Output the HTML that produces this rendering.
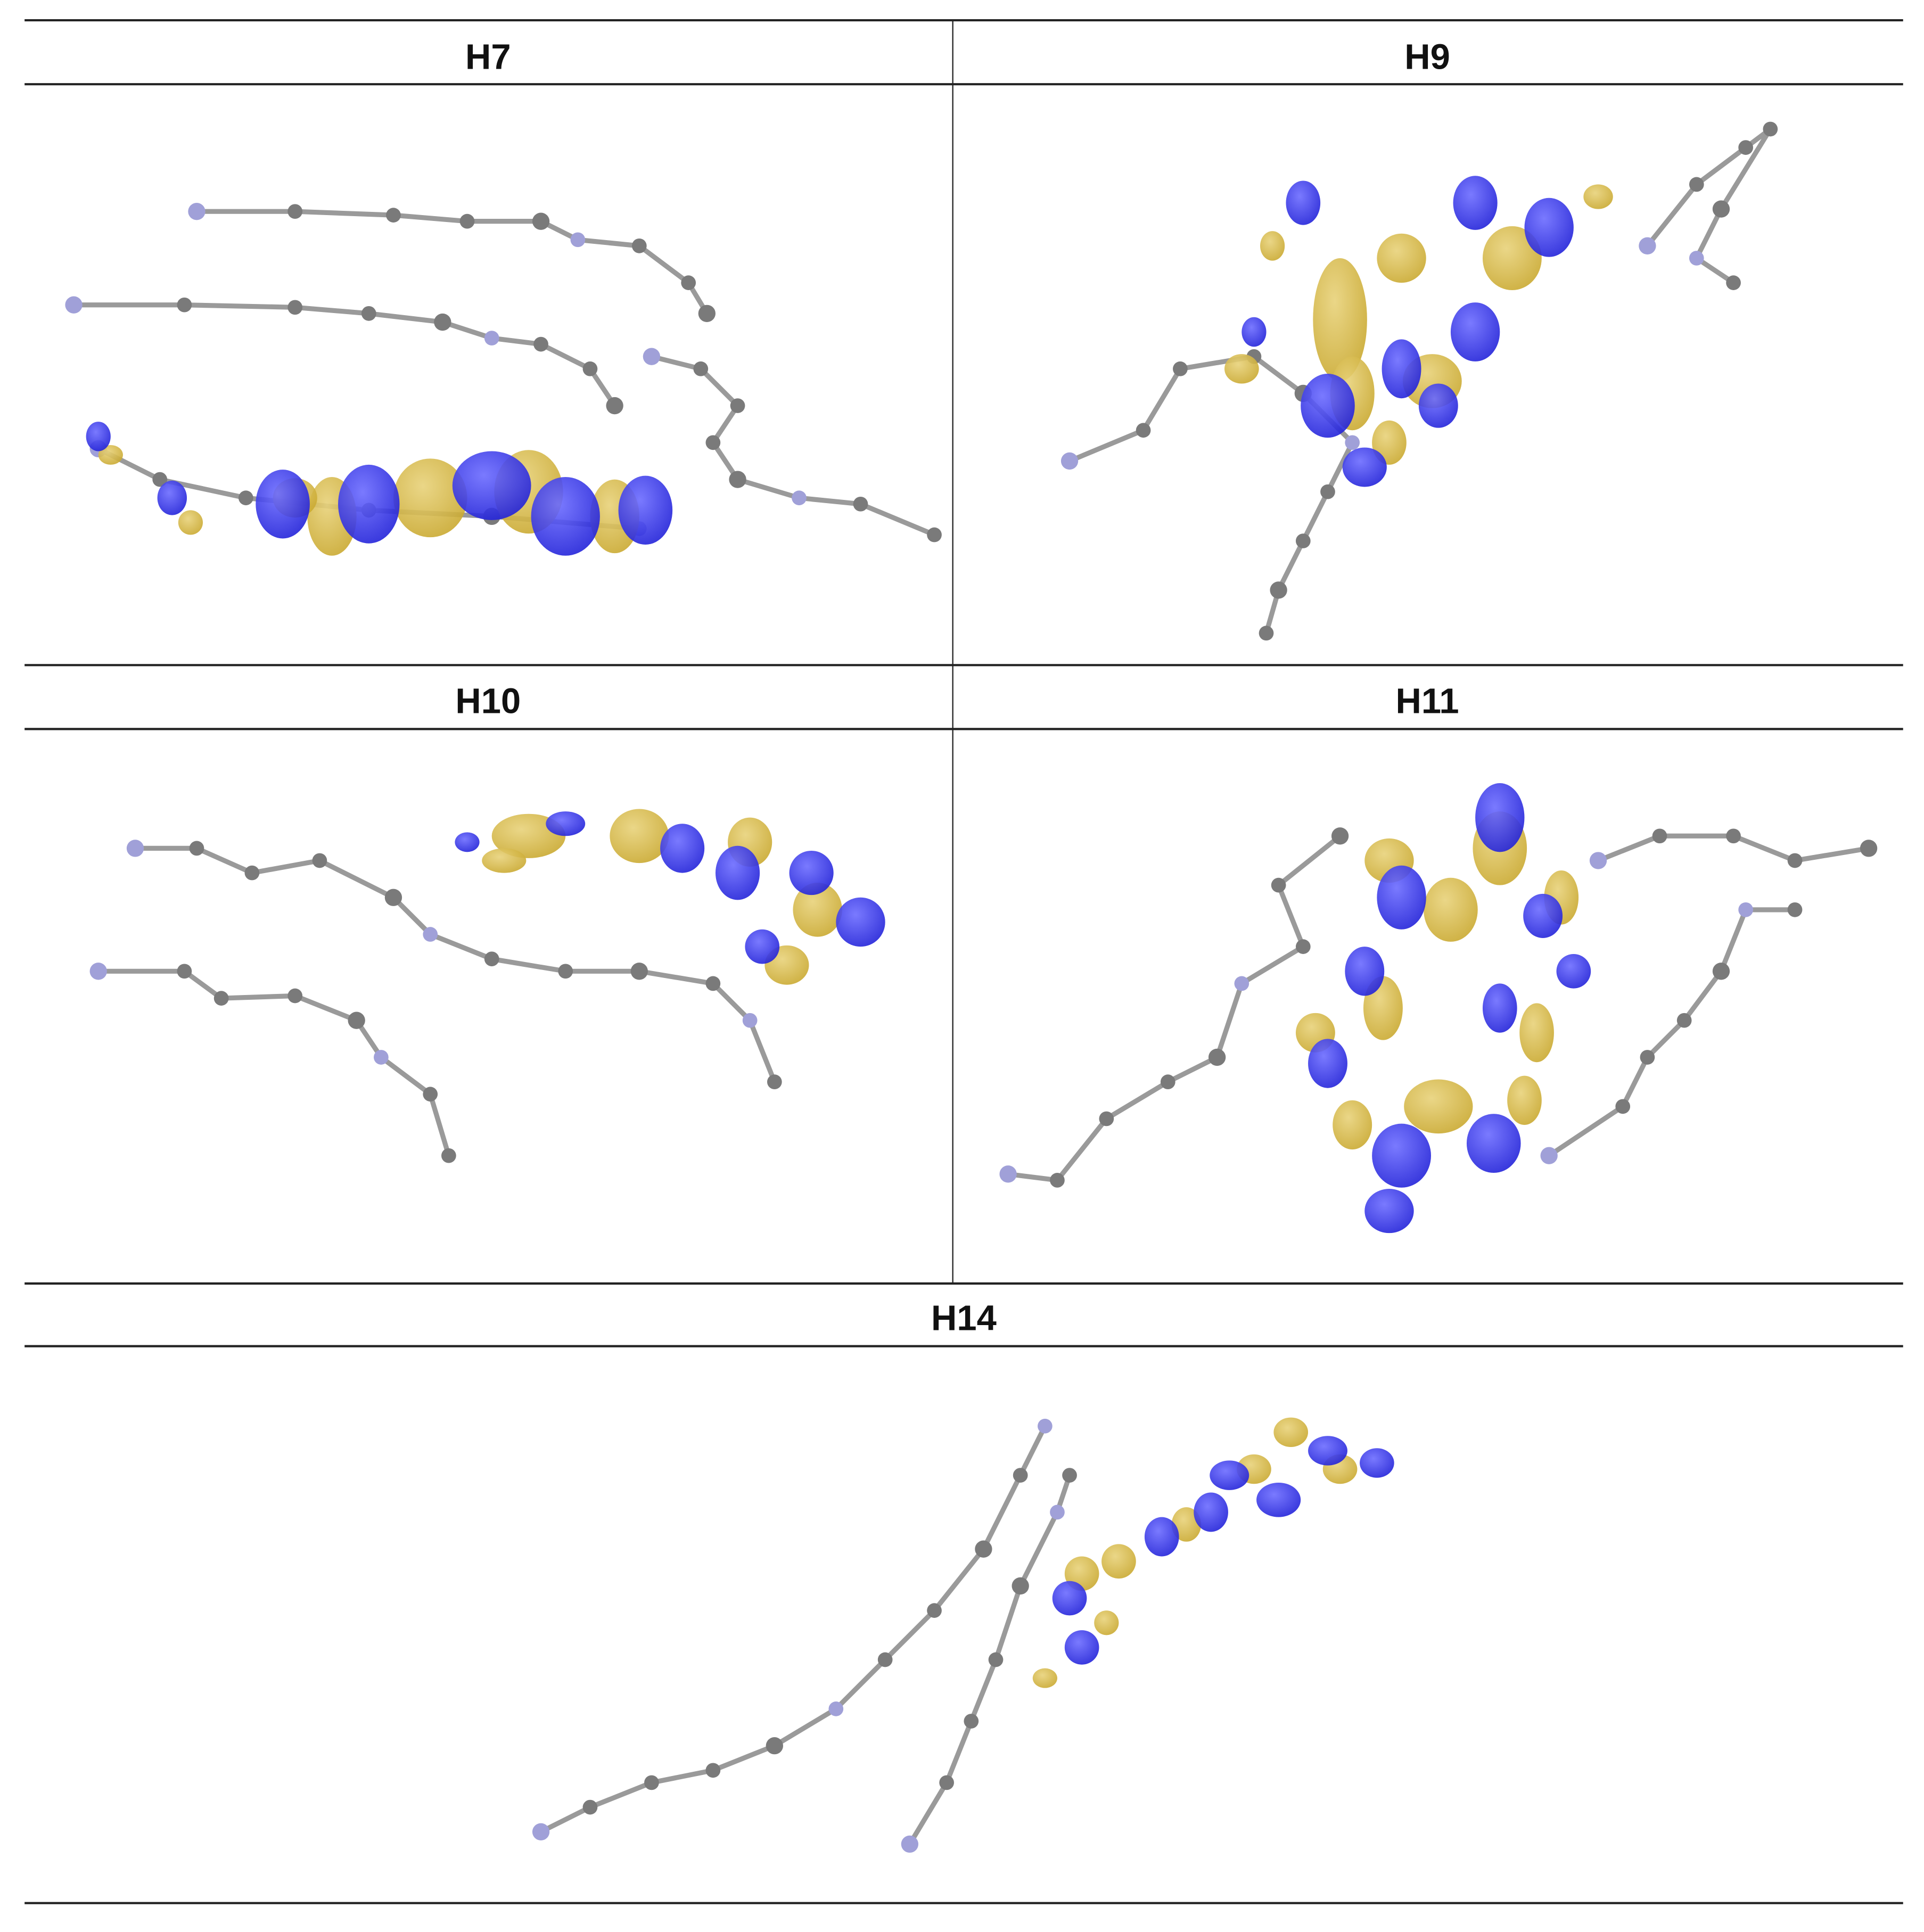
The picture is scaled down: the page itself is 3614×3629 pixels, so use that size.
<!DOCTYPE html>
<html><head><meta charset="utf-8"><style>
html,body{margin:0;padding:0;background:#fff;}
svg{display:block;}
text{font-family:"Liberation Sans",sans-serif;font-weight:bold;}
</style></head><body>
<svg id="fig" width="3614" height="3629" viewBox="0 0 1565 1571.5" preserveAspectRatio="none" xmlns="http://www.w3.org/2000/svg">
<defs>
<radialGradient id="gb" cx="40%" cy="35%" r="70%"><stop offset="0" stop-color="#6b6bff"/><stop offset="1" stop-color="#2020d8"/></radialGradient>
<radialGradient id="gy" cx="40%" cy="35%" r="70%"><stop offset="0" stop-color="#e8d27a"/><stop offset="1" stop-color="#c9a82e"/></radialGradient>
</defs>
<g stroke="#222" stroke-width="1.8">
<line x1="20" y1="16.5" x2="1548" y2="16.5"/>
<line x1="20" y1="68.5" x2="1548" y2="68.5"/>
<line x1="20" y1="541" x2="1548" y2="541"/>
<line x1="20" y1="593" x2="1548" y2="593"/>
<line x1="20" y1="1044" x2="1548" y2="1044"/>
<line x1="20" y1="1095" x2="1548" y2="1095"/>
<line x1="20" y1="1548" x2="1548" y2="1548"/>
<line x1="775" y1="17" x2="775" y2="1044" stroke-width="1"/>
</g>
<g font-size="29" text-anchor="middle" fill="#111">
<text x="397" y="56">H7</text>
<text x="1161" y="56">H9</text>
<text x="397" y="580">H10</text>
<text x="1161" y="580">H11</text>
<text x="784" y="1082">H14</text>
</g>
<g id="mols"></g>
</svg>
<script>
const chains = [
 [[160,172],[240,172],[320,175],[380,180],[440,180],[470,195],[520,200],[560,230],[575,255]],
 [[60,248],[150,248],[240,250],[300,255],[360,262],[400,275],[440,280],[480,300],[500,330]],
 [[80,365],[130,390],[200,405],[300,415],[400,420],[520,430]],
 [[530,290],[570,300],[600,330],[580,360],[600,390],[650,405],[700,410],[760,435]],
 [[870,375],[930,350],[960,300],[1020,290],[1060,320],[1100,360],[1080,400],[1060,440],[1040,480],[1030,515]],
 [[1340,200],[1380,150],[1420,120],[1440,105],[1400,170],[1380,210],[1410,230]],
 [[110,690],[160,690],[205,710],[260,700],[320,730],[350,760],[400,780],[460,790],[520,790],[580,800],[610,830],[630,880]],
 [[80,790],[150,790],[180,812],[240,810],[290,830],[310,860],[350,890],[365,940]],
 [[820,955],[860,960],[900,910],[950,880],[990,860],[1010,800],[1060,770],[1040,720],[1090,680]],
 [[1300,700],[1350,680],[1410,680],[1460,700],[1520,690]],
 [[1260,940],[1320,900],[1340,860],[1370,830],[1400,790],[1420,740],[1460,740]],
 [[440,1490],[480,1470],[530,1450],[580,1440],[630,1420],[680,1390],[720,1350],[760,1310],[800,1260],[830,1200],[850,1160]],
 [[740,1500],[770,1450],[790,1400],[810,1350],[830,1290],[860,1230],[870,1200]]
];
const blueLobes = [[230,410,22,28],[300,410,25,32],[400,395,32,28],[460,420,28,32],[525,415,22,28],[80,355,10,12],[140,405,12,14],
 [1060,165,14,18],[1200,165,18,22],[1260,185,20,24],[1140,300,16,24],[1080,330,22,26],[1200,270,20,24],[1110,380,18,16],[1020,270,10,12],[1170,330,16,18],
 [460,670,16,10],[555,690,18,20],[600,710,18,22],[660,710,18,18],[700,750,20,20],[620,770,14,14],[380,685,10,8],
 [1220,665,20,28],[1140,730,20,26],[1255,745,16,18],[1110,790,16,20],[1080,865,16,20],[1220,820,14,20],[1140,940,24,26],[1215,930,22,24],[1130,985,20,18],[1280,790,14,14],
 [870,1300,14,14],[880,1340,14,14],[945,1250,14,16],[985,1230,14,16],[1040,1220,18,14],[1080,1180,16,12],[1120,1190,14,12],[1000,1200,16,12]];
const yellowLobes = [[270,420,20,32],[350,405,30,32],[430,400,28,34],[500,420,20,30],[240,405,18,16],[155,425,10,10],[90,370,10,8],
 [1090,260,22,50],[1140,210,20,20],[1230,210,24,26],[1165,310,24,22],[1100,320,18,30],[1035,200,10,12],[1130,360,14,18],[1010,300,14,12],[1300,160,12,10],
 [430,680,30,18],[520,680,24,22],[610,685,18,20],[665,740,20,22],[640,785,18,16],[410,700,18,10],
 [1220,690,22,30],[1130,700,20,18],[1180,740,22,26],[1270,730,14,22],[1125,820,16,26],[1070,840,16,16],[1250,840,14,24],[1170,900,28,22],[1100,915,16,20],[1240,895,14,20],
 [880,1280,14,14],[910,1270,14,14],[965,1240,12,14],[1020,1195,14,12],[1050,1165,14,12],[1090,1195,14,12],[850,1365,10,8],[900,1320,10,10]];
const svgNS="http://www.w3.org/2000/svg";
const g=document.getElementById('mols');
chains.forEach((c,i)=>{
  const p=document.createElementNS(svgNS,'polyline');
  p.setAttribute('points',c.map(q=>q.join(',')).join(' '));
  p.setAttribute('fill','none');p.setAttribute('stroke','#9a9a9a');p.setAttribute('stroke-width','4');
  
  
  g.appendChild(p);
  c.forEach((q,j)=>{
    const a=document.createElementNS(svgNS,'circle');
    a.setAttribute('cx',q[0]);a.setAttribute('cy',q[1]);a.setAttribute('r',j%4==0?7:6);
    a.setAttribute('fill',j%5==0?'#a0a0d8':(j==0&&i%3==0?'#e02020':'#7a7a7a'));
    
    
    g.appendChild(a);
  });
});
function lobes(arr,fill,name){arr.forEach(l=>{
  const e=document.createElementNS(svgNS,'ellipse');
  e.setAttribute('cx',l[0]);e.setAttribute('cy',l[1]);e.setAttribute('rx',l[2]);e.setAttribute('ry',l[3]);
  e.setAttribute('fill',fill);e.setAttribute('opacity','0.9');
  
  
  g.appendChild(e);
});}
lobes(yellowLobes,'url(#gy)','orbital-lobe-yellow');
lobes(blueLobes,'url(#gb)','orbital-lobe-blue');
</script>
</body></html>
